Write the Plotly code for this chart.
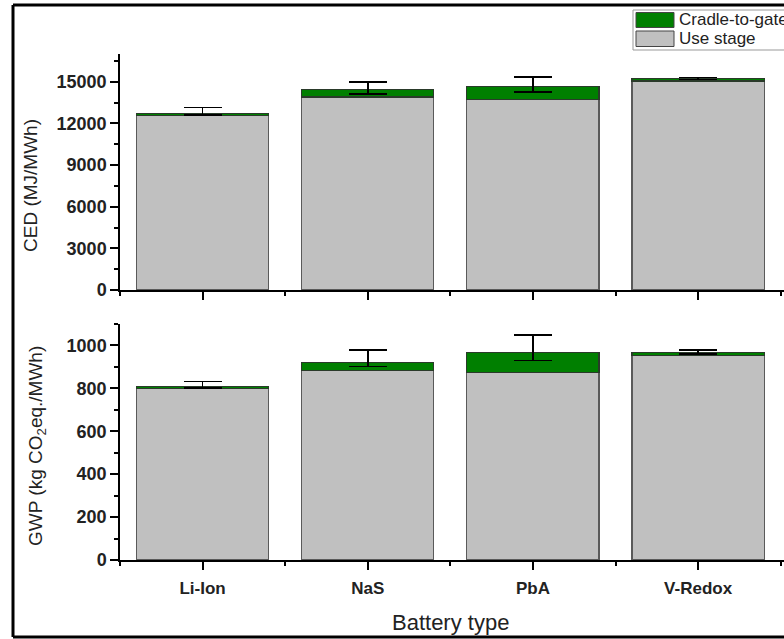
import plotly.graph_objects as go
from plotly.subplots import make_subplots

# Battery types on the shared category axis
batteries = ["Li-Ion", "NaS", "PbA", "V-Redox"]

# Cumulative energy demand (MJ/MWh)
ced_use = [12550, 13900, 13750, 15050]
ced_cradle = [150, 550, 900, 170]
ced_err_plus = [450, 550, 720, 90]
ced_err_minus = [120, 340, 360, 50]

# Global warming potential (kg CO2 eq./MWh)
gwp_use = [800, 884, 873, 955]
gwp_cradle = [10, 38, 93, 12]
gwp_err_plus = [22, 55, 82, 12]
gwp_err_minus = [10, 20, 36, 6]

legend_labels = ["Cradle-to-gate", "Use stage"]

GREEN = "#007f00"
GRAY = "#c0c0c0"
FONT = "Liberation Sans, Arial, sans-serif"
TXT = "#222"

W, H = 784, 639
ML, MR, MT, MB = 120, 0, 54, 79
PW, PH = W - ML - MR, H - MT - MB


def px_x(px):
    return (px - ML) / PW


def px_y(py):
    return (H - MB - py) / PH


xpos = list(range(len(batteries)))

fig = make_subplots(rows=2, cols=1)

panels = [
    (1, ced_use, ced_cradle, ced_err_plus, ced_err_minus),
    (2, gwp_use, gwp_cradle, gwp_err_plus, gwp_err_minus),
]
for row, use, cradle, ep, em in panels:
    fig.add_trace(
        go.Bar(
            x=xpos, y=use, width=0.8, name=legend_labels[1], showlegend=False,
            marker=dict(color=GRAY, line=dict(color="#5a5a5a", width=1.2)),
        ),
        row=row, col=1,
    )
    fig.add_trace(
        go.Bar(
            x=xpos, y=cradle, width=0.8, name=legend_labels[0], showlegend=False,
            marker=dict(color=GREEN, line=dict(color="#2a3a2a", width=1.2)),
            error_y=dict(type="data", symmetric=False, array=ep, arrayminus=em,
                         color="black", thickness=1.8, width=19),
        ),
        row=row, col=1,
    )

common_x = dict(
    range=[-0.5, len(batteries) - 0.48], tickmode="array", tickvals=xpos,
    ticktext=batteries, showline=True, linecolor="black", linewidth=1.5,
    ticks="outside", ticklen=8, tickwidth=1.5, tickcolor="black",
    minor=dict(tickmode="array", tickvals=[p + 0.5 for p in [-1] + xpos],
               ticks="outside", ticklen=4, tickwidth=1.5, tickcolor="black"),
    showgrid=False, zeroline=False, domain=[0, 1],
    tickfont=dict(family=FONT, size=17, color=TXT, weight="bold"),
)
common_y = dict(
    showline=True, linecolor="black", linewidth=1.5, ticks="outside",
    ticklen=8, tickwidth=1.5, tickcolor="black", showgrid=False,
    zeroline=False, tickfont=dict(family=FONT, size=18, color=TXT, weight="bold"),
    tickformat="d",
)

fig.update_layout(
    barmode="stack",
    width=W, height=H,
    margin=dict(l=ML, r=MR, t=MT, b=MB),
    paper_bgcolor="white", plot_bgcolor="white",
    font=dict(family=FONT, color=TXT),
    xaxis=dict(common_x, showticklabels=False),
    xaxis2=dict(common_x, ticklabelstandoff=4),
    yaxis=dict(common_y, domain=[px_y(290), 1], range=[0, 17000], dtick=3000,
               minor=dict(dtick=1500, ticks="outside", ticklen=4, tickwidth=1.5,
                          tickcolor="black")),
    yaxis2=dict(common_y, domain=[0, px_y(324)], range=[0, 1100], dtick=200,
                minor=dict(dtick=100, ticks="outside", ticklen=4, tickwidth=1.5,
                           tickcolor="black")),
)

annotations = [
    dict(xref="paper", yref="paper", x=px_x(30), y=px_y(186), text="CED (MJ/MWh)",
         textangle=-90, showarrow=False, xanchor="center", yanchor="middle",
         font=dict(family=FONT, size=19, color=TXT)),
    dict(xref="paper", yref="paper", x=px_x(37), y=px_y(446),
         text="GWP (kg CO<sub>2</sub>eq./MWh)",
         textangle=-90, showarrow=False, xanchor="center", yanchor="middle",
         font=dict(family=FONT, size=19, color=TXT)),
    dict(xref="paper", yref="paper", x=px_x(450), y=px_y(622), text="Battery type",
         showarrow=False, xanchor="center", yanchor="middle",
         font=dict(family=FONT, size=22, color=TXT)),
]

shapes = []
# Outer frame: left, top and bottom edges (right edge falls outside the figure)
frame = dict(color="black", width=3)
for x0, y0, x1, y1 in [(13, 5, 13, 637), (13, 5, 790, 5), (13, 637, 790, 637)]:
    shapes.append(dict(type="line", xref="paper", yref="paper",
                       x0=px_x(x0), y0=px_y(y0), x1=px_x(x1), y1=px_y(y1),
                       line=frame, layer="above"))
# Legend box
shapes.append(dict(type="rect", xref="paper", yref="paper",
                   x0=px_x(633), x1=px_x(790), y0=px_y(50), y1=px_y(10),
                   line=dict(color="#999", width=1), fillcolor="white"))
legend_colors = [GREEN, GRAY]
legend_rows = [(12.5, 27.5), (31, 46.5)]
for label, color, (t, b) in zip(legend_labels, legend_colors, legend_rows):
    shapes.append(dict(type="rect", xref="paper", yref="paper",
                       x0=px_x(636), x1=px_x(674), y0=px_y(b), y1=px_y(t),
                       line=dict(color="#444", width=1), fillcolor=color))
    annotations.append(dict(xref="paper", yref="paper", x=px_x(677), y=px_y((t + b) / 2),
                            text=label, showarrow=False, xanchor="left", yanchor="middle",
                            font=dict(family=FONT, size=17, color=TXT)))

fig.update_layout(shapes=shapes, annotations=annotations)

fig.write_html("out.html")
